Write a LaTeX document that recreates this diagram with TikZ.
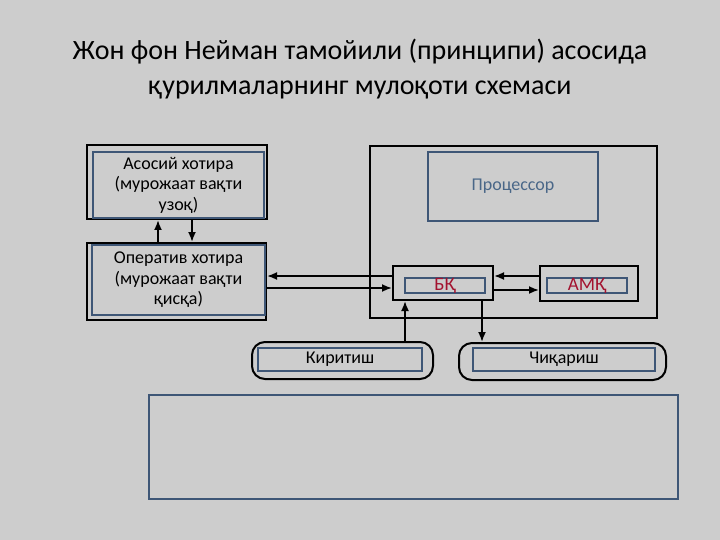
\documentclass[tikz,border=0pt]{standalone}
\usepackage{fontspec}
\setmainfont{Carlito}
\usetikzlibrary{arrows.meta,positioning}

\definecolor{slidebg}{HTML}{CDCDCD}
\definecolor{boxblue}{HTML}{3E5676}
\definecolor{cpublue}{HTML}{4A6788}
\definecolor{regred}{HTML}{A3122F}

\begin{document}
\begin{tikzpicture}[
      x=1pt, y=-1pt,
      outer/.style={
          rectangle, draw=black, line width=2pt,
          inner sep=0pt
        },
      inner/.style={
          rectangle, draw=boxblue, line width=1.8pt,
          align=center, inner sep=0pt,
          font=\fontsize{18}{20.5}\selectfont
        },
      roundbox/.style={outer, rounded corners=13pt}, % input / output units
      reg/.style={inner, text=regred, font=\fontsize{19}{19}\selectfont},
      arr/.style={draw, line width=1.8pt, -{Latex[length=10pt,width=8pt]}},
    ]
    \fill[slidebg] (0,0) rectangle (720,540);
    \useasboundingbox (0,0) rectangle (720,540);

    \node[align=center, font=\fontsize{28}{35}\selectfont] (title) at (360,69)
      {Жон фон Нейман тамойили (принципи) асосида\\қурилмаларнинг мулоқоти схемаси};

    % memory
    \node[outer, minimum width=180pt, minimum height=74pt] (mainout) at (177,182) {};
    \node[inner, minimum width=171pt, minimum height=66pt] (main) at (178.5,185)
      {Асосий хотира\\(мурожаат вақти\\узоқ)};
    \node[outer, minimum width=179pt, minimum height=77pt] (opout) at (176.5,281.5) {};
    \node[inner, minimum width=173pt, minimum height=70pt] (oper) at (178.5,280)
      {Оператив хотира\\(мурожаат вақти\\қисқа)};

    % processor
    \node[outer, minimum width=287pt, minimum height=172pt] (cpuout) at (513.5,232) {};
    \node[inner, minimum width=170pt, minimum height=69pt, text=cpublue] (cpu)
      at (513,186.5) {Процессор};
    \node[outer, minimum width=100pt, minimum height=34pt] (bqout) at (443,283) {};
    \node[reg, minimum width=80pt, minimum height=15pt] (bq) at (445,285.5) {БҚ};
    \node[outer, minimum width=98pt, minimum height=35pt] (amqout) at (589,283.5) {};
    \node[reg, minimum width=80pt, minimum height=15pt] (amq) at (587,285.5) {АМҚ};

    % input / output
    \node[roundbox, minimum width=181pt, minimum height=37pt] (kirout) at (342.5,360.5) {};
    \node[inner, minimum width=164pt, minimum height=23pt] (kir) at (340,359.5) {Киритиш};
    \node[roundbox, minimum width=207pt, minimum height=37pt] (chiqout) at (562.5,361.5) {};
    \node[inner, minimum width=182pt, minimum height=23pt] (chiq) at (564,359.5) {Чиқариш};

    \node[draw=boxblue, line width=2pt, minimum width=529pt, minimum height=104pt]
      (blank) at (413.5,447) {};

    % connectors
    \coordinate (upm) at ([xshift=72pt]opout.north west);
    \coordinate (dnm) at ([xshift=106pt]mainout.south west);
    \draw[arr] (upm) -- (upm |- mainout.south);
    \draw[arr] (dnm) -- (dnm |- opout.north);

    \coordinate (bqhi) at ([yshift=7pt]bqout.west);
    \coordinate (bqlo) at ([yshift=-5pt]bqout.west);
    \draw[arr] (bqhi) -- (bqhi -| opout.east);
    \draw[arr] (bqlo -| opout.east) -- (bqlo);

    \coordinate (amhi) at ([yshift=7pt]bqout.east);
    \coordinate (amlo) at ([yshift=-7pt]bqout.east);
    \draw[arr] (amhi -| amqout.west) -- (amhi);
    \draw[arr] (amlo) -- (amlo -| amqout.west);

    \coordinate (inp) at ([xshift=13pt]bqout.south west);
    \coordinate (outp) at ([xshift=-12pt]bqout.south east);
    \draw[arr] (inp |- kirout.north) -- (inp);
    \draw[arr] (outp) -- (outp |- chiqout.north);
  \end{tikzpicture}
\end{document}
